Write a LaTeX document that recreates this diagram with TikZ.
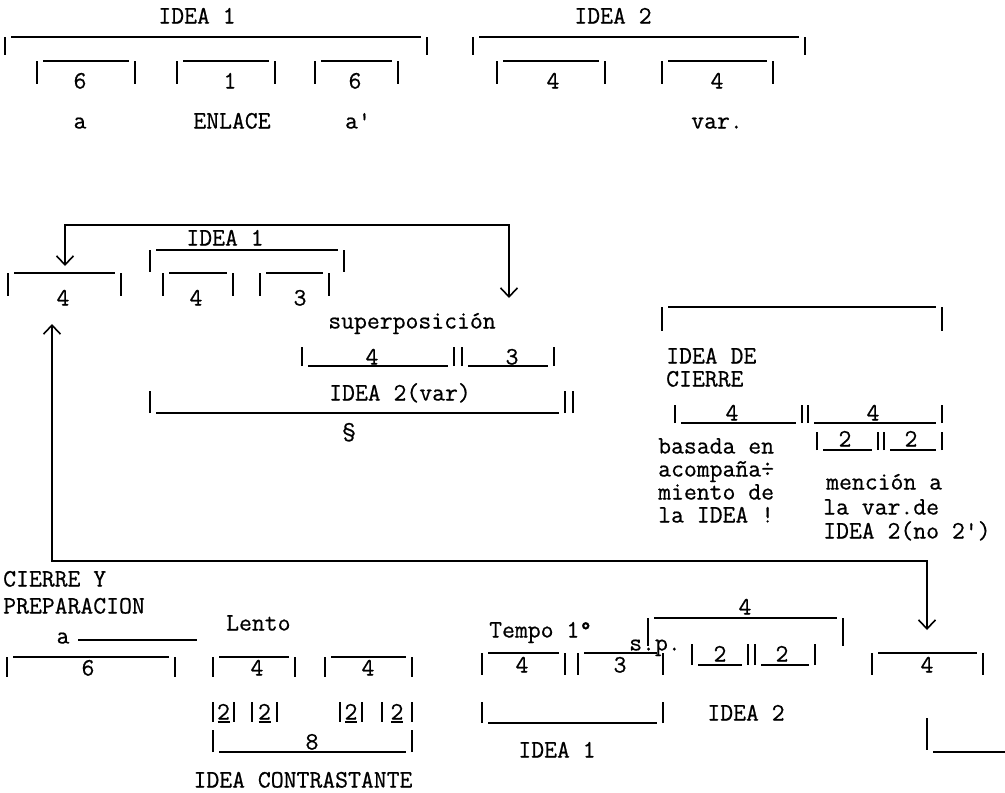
\documentclass[tikz,border=0pt]{standalone}
\usepackage{fontspec}
\newfontfamily\tw{Latin Modern Mono}[FakeBold=0.6]
\usetikzlibrary{arrows.meta}
\newcommand\ovbr[4]{% x1,x2,ytop,depth
  \draw[br] (#1,#3) -- ++(0,#4);
  \draw[br] ({#1+6},#3) -- ({#2-6},#3);
  \draw[br] (#2,#3) -- ++(0,#4);}
\newcommand\unbr[4]{% x1,x2,ybottom,height
  \draw[br] (#1,#3) -- ++(0,-#4);
  \draw[br] ({#1+6},#3) -- ({#2-6},#3);
  \draw[br] (#2,#3) -- ++(0,-#4);}
\newcommand\unum[3]{% x left bar, x right bar, y of digit: |2| with underlined 2
  \draw[br] (#1,{#3-10}) -- ++(0,20);
  \draw[br] (#2,{#3-10}) -- ++(0,20);
  \draw[br] ({(#1+#2)/2-6},{#3+10}) -- ({(#1+#2)/2+6},{#3+10});
  \node[lbl] at ({(#1+#2)/2},#3) {2};}
\begin{document}
\begin{tikzpicture}[x=1pt,y=-1pt,
  br/.style={line width=1.6pt},
  conn/.style={line width=1.6pt},
  lbl/.style={font=\tw\fontsize{25}{27}\selectfont, inner sep=0pt, text height=15pt, text depth=0pt, anchor=center},
  lbll/.style={lbl, anchor=west},
  barbs/.style={{Straight Barb[length=9pt,width=17pt,line width=1.6pt]}-{Straight Barb[length=9pt,width=17pt,line width=1.6pt]}}]
\useasboundingbox (0,0) rectangle (1005,793);

% ---------------- top row
\node[lbl] (i1) at (197,16) {IDEA 1};
\node[lbl] (i2) at (613,16) {IDEA 2};
\ovbr{5}{427}{37}{18}
\ovbr{473}{805}{37}{18}
\ovbr{37}{135}{61}{23}   \node[lbl] (t6a) at (80,81) {6};
\ovbr{177}{275}{61}{23}  \node[lbl] (t1) at (230,81) {1};
\ovbr{315}{398}{61}{23}  \node[lbl] (t6b) at (355,81) {6};
\ovbr{497}{605}{61}{23}  \node[lbl] (t4a) at (553,81) {4};
\ovbr{662}{773}{61}{23}  \node[lbl] (t4b) at (717,81) {4};
\node[lbl] (la) at (80,121) {a};
\node[lbl] (lenl) at (232,121) {ENLACE};
\node[lbl] (lap) at (358,121) {a'};
\node[lbl] (lvar) at (717,121) {var.};

% ---------------- middle left
\coordinate (mlt) at (65,266);
\coordinate (ml) at (65,225);
\coordinate (mr) at (509,225);
\coordinate (mrt) at (509,298);
\draw[conn,barbs] (mlt) -- (ml) -- (mr) -- (mrt);
\node[lbl] (mi1) at (225,238) {IDEA 1};
\ovbr{150}{344}{250}{22}
\ovbr{8}{121}{273}{23}   \node[lbl] (m4) at (63,298) {4};
\ovbr{163}{233}{273}{23} \node[lbl] (m4b) at (196,298) {4};
\ovbr{260}{329}{273}{23} \node[lbl] (m3) at (300,298) {3};
\node[lbl] (sup) at (412,321) {superposición};
\unbr{302}{454}{366}{19} \node[lbl] (s4) at (372,357) {4};
\unbr{462}{554}{366}{19} \node[lbl] (s3) at (512,357) {3};
\node[lbl] (i2v) at (400,393) {IDEA 2(var)};
\unbr{150}{565}{413}{22}
\draw[br] (573,413) -- ++(0,-22);
\node[lbl] (par) at (349,431) {§};

% ---------------- middle right
\ovbr{662}{942}{307}{24}
\node[lbll] (idc1) at (666,356) {IDEA DE};
\node[lbll] (idc2) at (666,379) {CIERRE};
\unbr{675}{802}{423}{18} \node[lbl] (c4a) at (732,413) {4};
\unbr{808}{942}{423}{18} \node[lbl] (c4b) at (873,413) {4};
\unbr{817}{878}{450}{18} \node[lbl] (c2a) at (845,439) {2};
\unbr{884}{942}{450}{18} \node[lbl] (c2b) at (911,439) {2};
\node[lbll] (b1) at (658,446) {basada en};
\node[lbll] (b2) at (658,469) {acompaña÷};
\node[lbll] (b3) at (658,492) {miento de};
\node[lbll] (b4) at (658,515) {la IDEA !};
\node[lbll] (n1) at (826,482) {mención a};
\node[lbll] (n2) at (823,507) {la var.de};
\node[lbll] (n3) at (823,531) {IDEA 2(no 2')};

% ---------------- return loop
\coordinate (lu) at (52,324);
\coordinate (lb) at (52,561);
\coordinate (rb) at (927,561);
\coordinate (rd) at (927,630);
\draw[conn,barbs] (lu) -- (lb) -- (rb) -- (rd);

% ---------------- bottom left
\node[lbll] (cy1) at (3,579) {CIERRE Y};
\node[lbll] (cy2) at (3,606) {PREPARACION};
\node[lbl] (ca) at (63,636) {a};
\coordinate (cal1) at (78,640);
\coordinate (cal2) at (197,640);
\draw[br] (cal1) -- (cal2);
\node[lbll] (lento) at (226,623) {Lento};
\ovbr{7}{175}{657}{20}   \node[lbl] (b6) at (88,668) {6};
\ovbr{213}{295}{657}{20} \node[lbl] (l4a) at (257,668) {4};
\ovbr{325}{412}{657}{20} \node[lbl] (l4b) at (368,668) {4};
\unum{213}{234}{712}
\unum{252}{277}{712}
\unum{340}{362}{712}
\unum{382}{412}{712}
\unbr{213}{412}{752}{22} \node[lbl] (l8) at (312,742) {8};
\node[lbl] (ict) at (303,780) {IDEA CONTRASTANTE};

% ---------------- bottom middle
\node[lbll] (tempo) at (489,630) {Tempo 1°};
\ovbr{482}{565}{653}{22} \node[lbl] (p4) at (522,665) {4};
\ovbr{578}{663}{653}{22} \node[lbl] (p3) at (620,665) {3};
\node[lbl] (sp) at (655,643) {s.p.};
\ovbr{648}{843}{618}{28} \node[lbl] (q4) at (745,607) {4};
\unbr{692}{748}{665}{21} \node[lbl] (q2a) at (720,654) {2};
\unbr{755}{815}{665}{21} \node[lbl] (q2b) at (782,654) {2};
\unbr{482}{663}{723}{21}
\node[lbl] (pi1) at (557,750) {IDEA 1};
\node[lbl] (pi2) at (746,713) {IDEA  2};

% ---------------- bottom right
\ovbr{872}{983}{653}{22} \node[lbl] (r4) at (927,665) {4};
\draw[br] (927,718) -- (927,750);
\draw[br] (933,752) -- (1005,752);
\end{tikzpicture}
\end{document}
